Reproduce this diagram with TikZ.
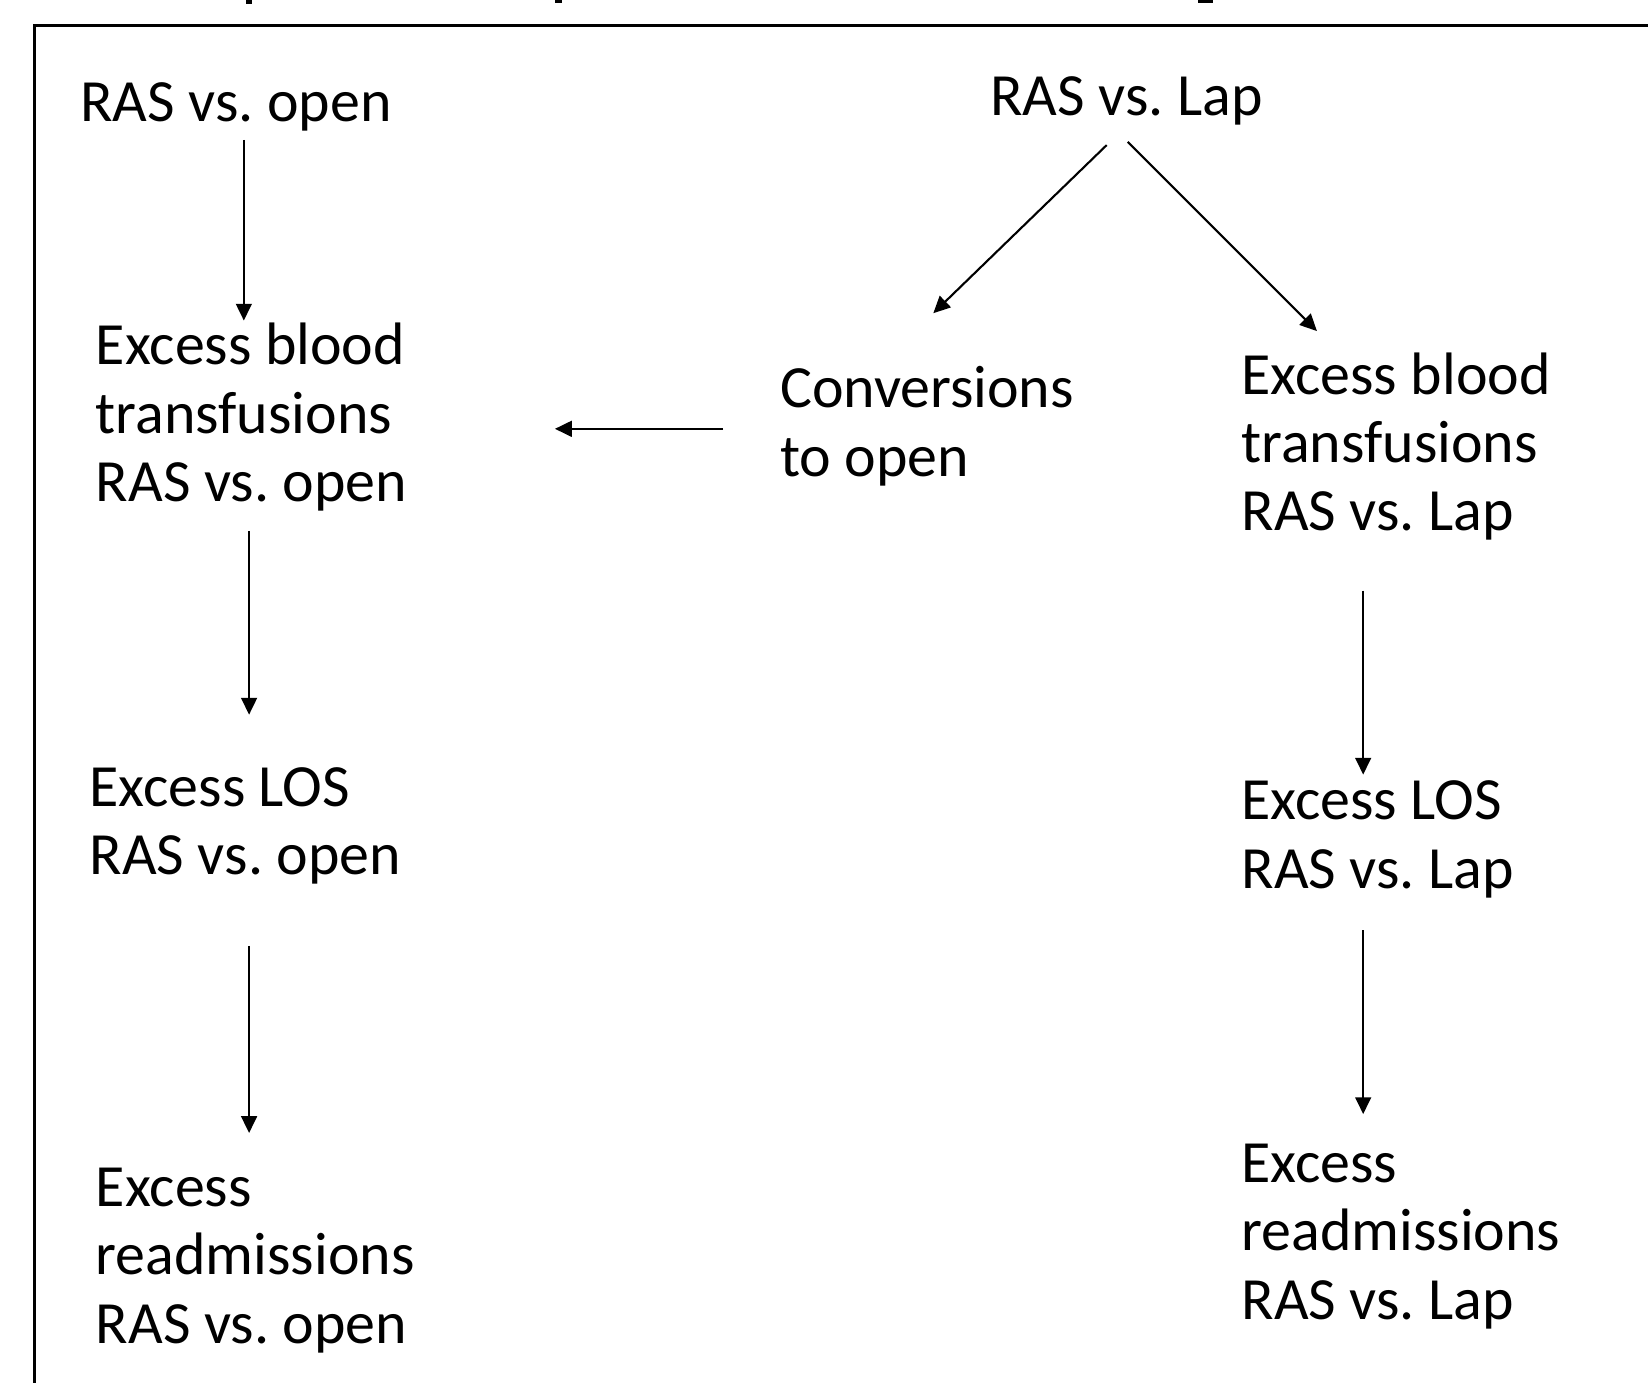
\documentclass[tikz,border=0pt]{standalone}
\usepackage{fontspec}
\setmainfont{Carlito}
\usetikzlibrary{arrows.meta}
\frenchspacing
\newcommand\stk[1]{\begin{tabular}[t]{@{}l@{}}#1\end{tabular}}
\tikzset{
  lbl/.style={anchor=base west, inner sep=0pt, font=\fontsize{57}{65}\selectfont},
  arr/.style={-{Triangle[length=16pt,width=15pt]}, line width=2pt},
  frame/.style={line width=2.6pt},
}
\begin{document}
\begin{tikzpicture}[x=1pt,y=-1pt]
\useasboundingbox (0,0) rectangle (1568,1315);
\clip (0,0) rectangle (1568,1315);
% remnants of the cut-off title
\fill (234,0) rectangle (240,4);
\fill (528,0) rectangle (535,3);
\fill (1140,0) rectangle (1154,3);
% frame
\draw[frame] (33,1340) -- (33,24) -- (1600,24);
% labels
\node[lbl] (L0) at (76,116) {RAS vs. open};
\node[lbl] (L1) at (91,347) {\stk{Excess blood\\transfusions\\RAS vs. open}};
\node[lbl] (L2) at (85,767) {\stk{Excess LOS\\RAS vs. open}};
\node[lbl] (L3) at (91,1148) {\stk{Excess\\readmissions\\RAS vs. open}};
\node[lbl] (R0) at (942,110) {RAS vs. Lap};
\node[lbl] (C)  at (742,388) {\stk{Conversions\\to open}};
\node[lbl] (R1) at (1181,375) {\stk{Excess blood\\transfusions\\RAS vs. Lap}};
\node[lbl] (R2) at (1181,780) {\stk{Excess LOS\\RAS vs. Lap}};
\node[lbl] (R3) at (1181,1125) {\stk{Excess\\readmissions\\RAS vs. Lap}};
% connector end points
\coordinate (a1s) at (232,133);  \coordinate (a1e) at (232,305);
\coordinate (a2s) at (237,505);  \coordinate (a2e) at (237,680);
\coordinate (a3s) at (237,900);  \coordinate (a3e) at (237,1078);
\coordinate (d1s) at (1053,138); \coordinate (d1e) at (888,298);
\coordinate (d2s) at (1073,135); \coordinate (d2e) at (1253,315);
\coordinate (hs) at (688,408);   \coordinate (he) at (528,408);
\coordinate (r1s) at (1297,562); \coordinate (r1e) at (1297,737);
\coordinate (r2s) at (1297,885); \coordinate (r2e) at (1297,1060);
% connectors
\draw[arr] (a1s) -- (a1e);
\draw[arr] (a2s) -- (a2e);
\draw[arr] (a3s) -- (a3e);
\draw[arr] (d1s) -- (d1e);
\draw[arr] (d2s) -- (d2e);
\draw[arr] (hs) -- (he);
\draw[arr] (r1s) -- (r1e);
\draw[arr] (r2s) -- (r2e);
\end{tikzpicture}
\end{document}
